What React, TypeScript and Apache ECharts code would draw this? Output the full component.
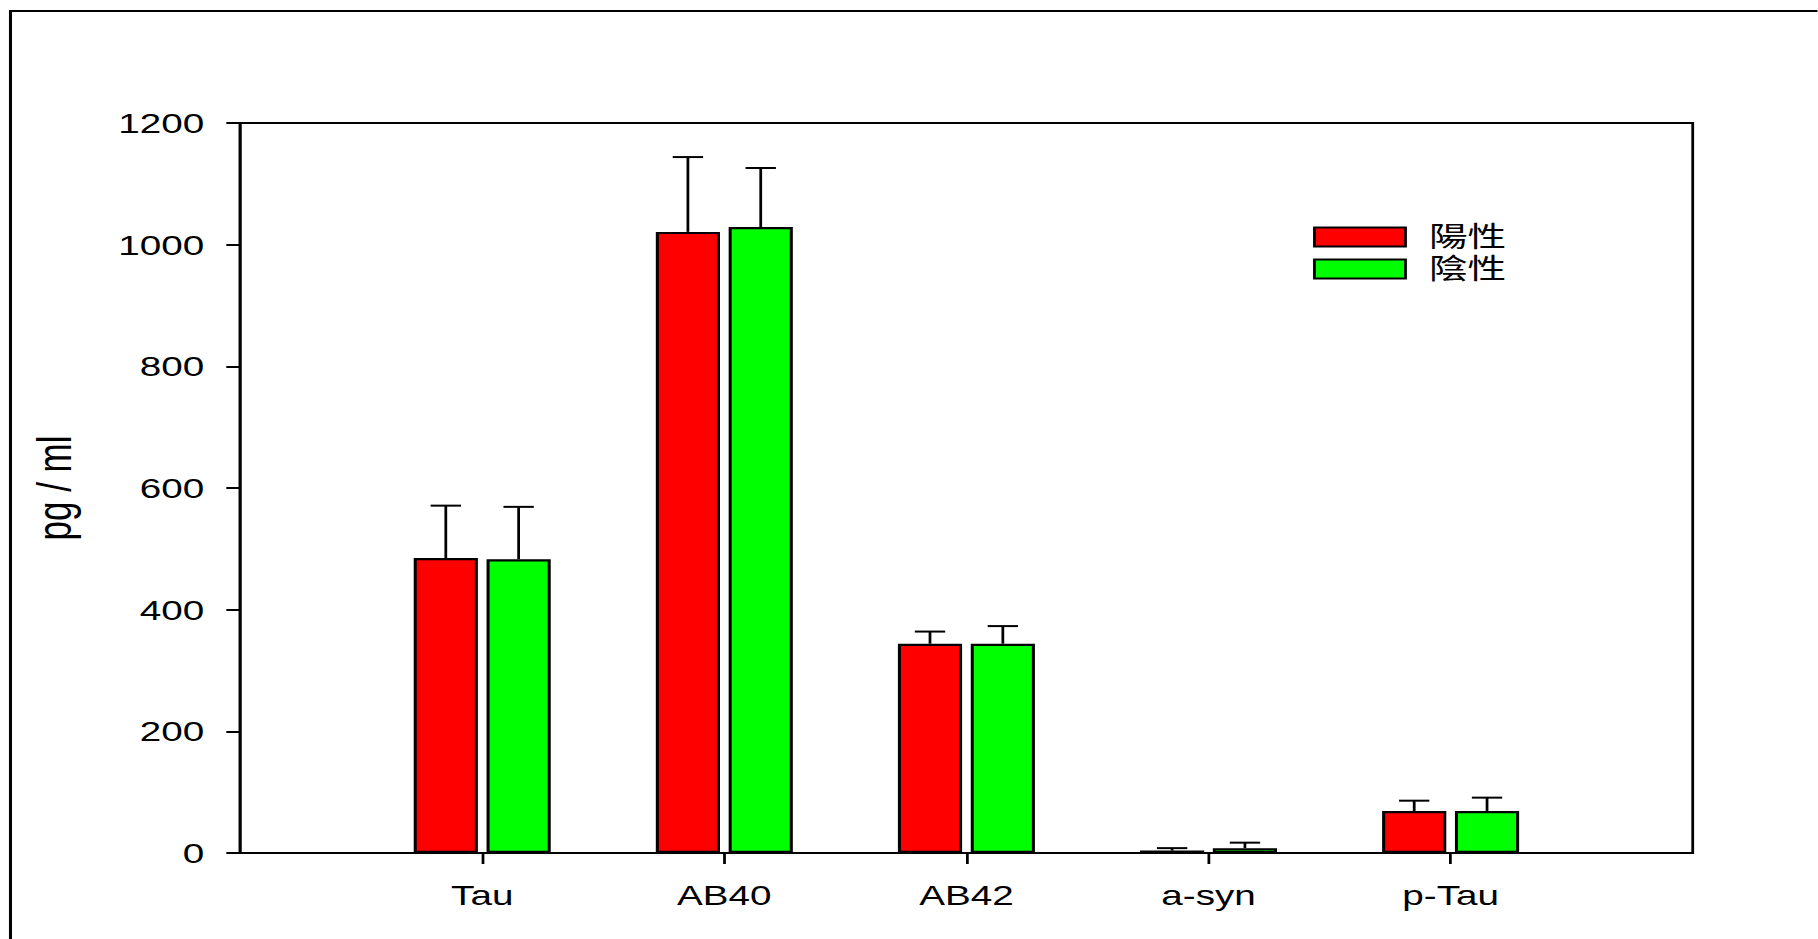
import React, { useEffect, useRef } from "react";
import * as echarts from "echarts";

// Marker categories and group values (pg/ml), mean and error (upper bar only)
const categories = ["Tau", "AB40", "AB42", "a-syn", "p-Tau"];
const seriesNames = ["陽性", "陰性"];
const positiveMean = [485, 1021, 344, 4, 69];
const positiveErr = [86, 123, 20, 4, 17];
const negativeMean = [483, 1029, 344, 8, 69];
const negativeErr = [86, 97, 29, 9, 22];
const yMin = 0;
const yMax = 1200;
const yStep = 200;
const yAxisTitle = "pg / ml";

// The figure is drawn narrow and widened horizontally as a whole.
const STRETCH = 1.38;
const PAGE_W = 1818;
const PAGE_H = 939;
const CHART_W = PAGE_W / STRETCH;

const BAR_WIDTH = 46.5;
const BAR_GAP = 0.135;
const CAP_HALF = 11;
const FONT = "'Liberation Sans', Arial, Helvetica, sans-serif";

// empty slots at both ends so the five groups sit at 1..5 on a 0..6 span
const axisCategories = ["", ...categories, ""];
const padSlots = (vals: number[]) => ["-", ...vals, "-"];

function errorBarSeries(name: string, means: number[], errs: number[], offset: number) {
  return {
    type: "custom",
    name: name + "-err",
    z: 5,
    encode: { x: 0, y: 1 },
    data: means.map((m, i) => [i + 1, m, errs[i]]),
    renderItem: (_params: any, api: any) => {
      const idx = api.value(0);
      const mean = api.value(1);
      const err = api.value(2);
      const base = api.coord([idx, mean]);
      const top = api.coord([idx, mean + err]);
      const x = base[0] + offset;
      const style = { stroke: "#000", lineWidth: 2, fill: "none" };
      return {
        type: "group",
        children: [
          { type: "line", shape: { x1: x, y1: base[1], x2: x, y2: top[1] }, style },
          { type: "line", shape: { x1: x - CAP_HALF, y1: top[1], x2: x + CAP_HALF, y2: top[1] }, style },
        ],
      };
    },
  };
}

export default function App() {
  const ref = useRef<HTMLDivElement>(null);

  useEffect(() => {
    if (!ref.current) return;
    const chart = echarts.init(ref.current, undefined, { renderer: "svg" });
    const offset = (BAR_WIDTH + BAR_WIDTH * BAR_GAP) / 2;

    const barStyle = (color: string) => ({
      color,
      borderColor: "#000",
      borderWidth: 2.2,
    });

    chart.setOption({
      animation: false,
      backgroundColor: "#ffffff",
      grid: {
        left: 174,
        right: CHART_W - 1227,
        top: 123,
        bottom: PAGE_H - 853,
        show: true,
        borderColor: "#000",
        borderWidth: 2,
        backgroundColor: "transparent",
      },
      graphic: [
        {
          type: "rect",
          shape: { x: 7.6, y: 11, width: 4000, height: 4000 },
          style: { fill: "none", stroke: "#000", lineWidth: 2.2 },
          silent: true,
        },
      ],
      legend: {
        data: seriesNames,
        orient: "vertical",
        left: 946.5,
        top: 218,
        itemWidth: 66,
        itemHeight: 19,
        itemGap: 4,
        icon: "rect",
        itemStyle: { borderColor: "#000", borderWidth: 2 },
        textStyle: {
          fontSize: 28,
          lineHeight: 19,
          color: "#000",
          fontFamily: "'Liberation Sans', 'Noto Sans CJK TC', 'Noto Sans CJK SC', sans-serif",
          padding: [0, 0, 0, 12],
        },
      },
      xAxis: {
        type: "category",
        data: axisCategories,
        boundaryGap: false,
        axisLine: { lineStyle: { color: "#000", width: 2 } },
        axisTick: {
          show: true,
          length: 11,
          interval: (i: number) => i >= 1 && i <= categories.length,
          lineStyle: { color: "#000", width: 2 },
        },
        axisLabel: {
          interval: 0,
          margin: 28,
          fontSize: 28,
          color: "#000",
          fontFamily: FONT,
        },
        splitLine: { show: false },
      },
      yAxis: {
        type: "value",
        min: yMin,
        max: yMax,
        interval: yStep,
        name: yAxisTitle,
        nameLocation: "middle",
        nameRotate: 90,
        nameGap: 117,
        nameTextStyle: { fontSize: 35, color: "#000", fontFamily: FONT },
        axisLine: { show: true, lineStyle: { color: "#000", width: 2 } },
        axisTick: { show: true, length: 10, lineStyle: { color: "#000", width: 2 } },
        axisLabel: {
          margin: 26,
          fontSize: 28,
          color: "#000",
          fontFamily: FONT,
          formatter: (v: number) => String(v),
        },
        splitLine: { show: false },
      },
      series: [
        {
          type: "bar",
          name: seriesNames[0],
          data: padSlots(positiveMean),
          barWidth: BAR_WIDTH,
          barGap: `${BAR_GAP * 100}%`,
          itemStyle: barStyle("#ff0000"),
        },
        {
          type: "bar",
          name: seriesNames[1],
          data: padSlots(negativeMean),
          barWidth: BAR_WIDTH,
          barGap: `${BAR_GAP * 100}%`,
          itemStyle: barStyle("#00ff00"),
        },
        errorBarSeries(seriesNames[0], positiveMean, positiveErr, -offset),
        errorBarSeries(seriesNames[1], negativeMean, negativeErr, offset),
      ],
    });

    return () => chart.dispose();
  }, []);

  return (
    <div
      style={{
        position: "fixed",
        left: 0,
        top: 0,
        width: PAGE_W,
        height: PAGE_H,
        overflow: "hidden",
        background: "#fff",
      }}
    >
      <div
        ref={ref}
        style={{
          width: CHART_W,
          height: PAGE_H,
          transform: `scaleX(${STRETCH})`,
          transformOrigin: "0 0",
        }}
      />
    </div>
  );
}
